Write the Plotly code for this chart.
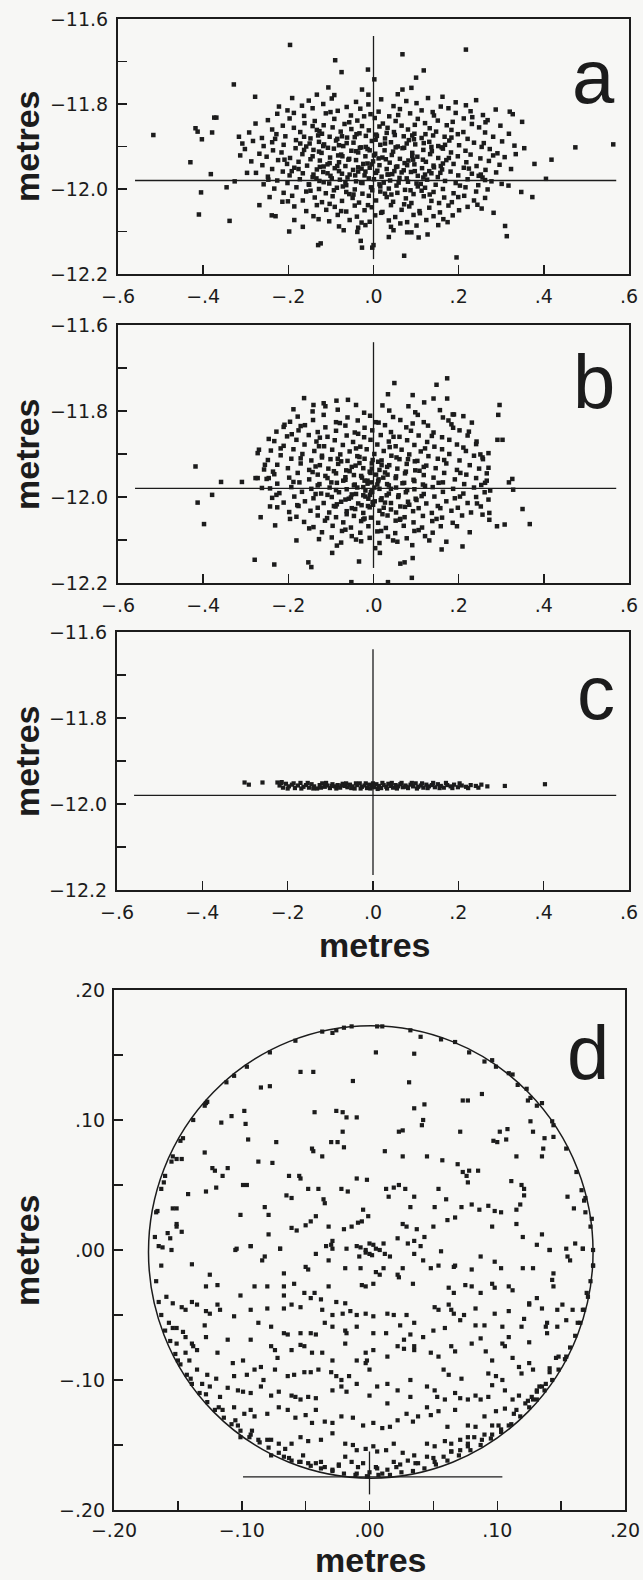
import plotly.graph_objects as go

# ---------------- data (millimetres) ----------------
# panel a: horizontal position (x) and height (y)
a_points_mm = [
    (-196,-11661),(217,-11672),(68,-11683),(-90,-11697),(-75,-11725),(-13,-11719),(2,-11742),(118,-11721),
    (100,-11738),(-328,-11754),(-106,-11761),(-27,-11766),(68,-11766),(89,-11762),(-278,-11783),(-191,-11786),
    (-133,-11778),(-517,-11873),(-418,-11857),(-413,-11865),(-403,-11883),(-374,-11832),(-369,-11832),(-379,-11867),
    (-316,-11877),(-430,-11937),(-382,-11965),(-405,-12008),(-410,-12060),(-338,-12075),(-345,-11996),(-326,-11982),
    (474,-11902),(563,-11895),(418,-11931),(405,-11976),(378,-11941),(373,-12019),(347,-12007),(320,-11818),
    (327,-11824),(349,-11842),(354,-11904),(309,-12087),(313,-12111),(282,-12056),(195,-12161),(72,-12157),
    (-30,-12122),(-27,-12138),(-3,-12138),(0,-12132),(36,-12113),(79,-12102),(89,-12102),(106,-12114),
    (127,-12107),(-130,-12132),(-124,-12128),(-70,-12097),(-36,-12091),(-198,-12100),(-239,-12062),(-230,-12064),
    (-186,-12073),(174,-12078),(252,-11966),(262,-11979),
    (-152,-11792),(-98,-11787),(-41,-11795),(18,-11789),(77,-11793),(128,-11786),(193,-11796),(241,-11791),
    (-168,-11804),(-118,-11800),(-63,-11807),(-12,-11801),(47,-11805),(101,-11798),(158,-11806),(217,-11803),
    (-202,-11815),(-143,-11810),(-84,-11816),(-31,-11811),(12,-11818),(62,-11812),(113,-11815),(176,-11810),(228,-11817),(287,-11813),
    (-226,-11823),(-163,-11828),(-112,-11822),(-53,-11827),(-7,-11824),(37,-11829),(86,-11822),(142,-11827),(193,-11821),(257,-11826),
    (-248,-11838),(-197,-11834),(-138,-11840),(-92,-11835),(-38,-11839),(3,-11833),(52,-11840),(104,-11835),(151,-11839),(212,-11834),(268,-11838),
    (-277,-11846),(-213,-11851),(-162,-11845),(-117,-11850),(-68,-11847),(-27,-11852),(22,-11846),(66,-11851),(121,-11845),(172,-11850),(231,-11847),(298,-11851),
    (-238,-11860),(-187,-11856),(-133,-11861),(-96,-11855),(-52,-11859),(-11,-11862),(33,-11856),(81,-11860),(132,-11857),(183,-11861),(248,-11855),
    (-292,-11867),(-228,-11871),(-172,-11866),(-121,-11870),(-77,-11865),(-33,-11869),(6,-11872),(48,-11866),(96,-11870),(147,-11865),(198,-11871),(262,-11867),(318,-11870),
    (-262,-11880),(-207,-11876),(-148,-11881),(-103,-11877),(-62,-11879),(-18,-11875),(27,-11881),(71,-11876),(113,-11880),(167,-11877),(221,-11882),(281,-11877),
    (-283,-11887),(-238,-11890),(-182,-11885),(-128,-11889),(-88,-11886),(-47,-11891),(-4,-11887),(41,-11890),(83,-11885),(131,-11889),(178,-11886),(236,-11891),(302,-11888),
    (-258,-11899),(-211,-11896),(-158,-11900),(-116,-11895),(-71,-11899),(-29,-11902),(16,-11896),(57,-11900),(98,-11895),(152,-11899),(201,-11897),(254,-11901),(331,-11898),
    (-302,-11906),(-236,-11909),(-183,-11904),(-141,-11908),(-93,-11905),(-52,-11910),(-14,-11906),(26,-11909),(68,-11904),(117,-11908),(163,-11905),(216,-11910),(273,-11906),
    (-268,-11917),(-216,-11914),(-167,-11918),(-122,-11915),(-76,-11919),(-36,-11914),(4,-11917),(43,-11920),(91,-11915),(133,-11918),(182,-11914),(228,-11919),(291,-11916),
    (-251,-11924),(-196,-11927),(-143,-11923),(-102,-11926),(-57,-11929),(-19,-11923),(21,-11926),(62,-11929),(103,-11924),(152,-11927),(198,-11923),(251,-11928),(308,-11925),
    (-287,-11935),(-224,-11932),(-176,-11936),(-126,-11933),(-81,-11937),(-41,-11932),(-1,-11935),(38,-11938),(82,-11933),(123,-11936),(171,-11932),(218,-11937),(271,-11934),
    (-261,-11944),(-203,-11941),(-156,-11945),(-108,-11942),(-66,-11946),(-24,-11941),(14,-11944),(56,-11947),(96,-11942),(141,-11945),(188,-11941),(242,-11946),(296,-11943),
    (-238,-11953),(-186,-11950),(-133,-11954),(-91,-11951),(-48,-11955),(-9,-11950),(31,-11953),(71,-11956),(114,-11951),(161,-11954),(212,-11950),(263,-11955),
    (-276,-11962),(-213,-11959),(-166,-11963),(-118,-11960),(-74,-11964),(-36,-11959),(6,-11962),(44,-11965),(88,-11960),(136,-11963),(181,-11959),(231,-11964),(288,-11961),
    (-248,-11971),(-197,-11968),(-143,-11972),(-101,-11969),(-61,-11973),(-21,-11968),(19,-11971),(61,-11974),(104,-11969),(151,-11972),(199,-11968),(256,-11973),
    (-226,-11980),(-173,-11977),(-127,-11981),(-79,-11978),(-41,-11982),(1,-11977),(39,-11980),(81,-11983),(126,-11978),(168,-11981),(221,-11977),(277,-11982),
    (-258,-11989),(-202,-11986),(-151,-11990),(-104,-11987),(-64,-11991),(-26,-11986),(14,-11989),(54,-11992),(101,-11987),(146,-11990),(193,-11986),(246,-11991),(301,-11988),
    (-233,-11999),(-181,-11996),(-128,-12000),(-86,-11997),(-44,-12001),(-6,-11996),(36,-11999),(74,-12002),(121,-11997),(163,-12000),(216,-11996),(268,-12001),
    (-211,-12009),(-158,-12006),(-112,-12010),(-64,-12007),(-26,-12011),(16,-12006),(56,-12009),(94,-12012),(141,-12007),(188,-12010),(241,-12006),
    (-244,-12019),(-191,-12016),(-138,-12020),(-96,-12017),(-49,-12021),(-11,-12016),(31,-12019),(76,-12022),(118,-12017),(166,-12020),(213,-12016),(262,-12021),
    (-214,-12030),(-166,-12027),(-121,-12031),(-74,-12028),(-34,-12032),(6,-12027),(46,-12030),(89,-12033),(136,-12028),(184,-12031),(236,-12027),
    (-186,-12041),(-133,-12038),(-91,-12042),(-44,-12039),(-4,-12043),(41,-12038),(84,-12041),(131,-12044),(176,-12039),(221,-12042),
    (-158,-12052),(-111,-12049),(-64,-12053),(-21,-12050),(21,-12054),(66,-12049),(108,-12052),(156,-12055),(201,-12050),
    (-141,-12064),(-84,-12061),(-39,-12065),(4,-12062),(51,-12066),(94,-12061),(141,-12064),(186,-12062),
    (-104,-12076),(-56,-12073),(-9,-12077),(36,-12074),(79,-12078),(124,-12073),
    (-81,-12088),(-19,-12085),(41,-12089),(101,-12086),
    (-130,-11874),(-85,-11882),(-40,-11871),(5,-11884),(50,-11873),(95,-11883),(140,-11874),
    (-150,-11893),(-107,-11903),(-63,-11892),(-18,-11901),(27,-11893),(72,-11903),(118,-11892),(160,-11902),
    (-128,-11912),(-83,-11921),(-41,-11911),(1,-11921),(46,-11912),(91,-11922),(137,-11911),
    (-148,-11930),(-103,-11939),(-59,-11931),(-14,-11940),(29,-11930),(73,-11939),(116,-11931),(163,-11940),
    (-126,-11948),(-81,-11958),(-36,-11949),(9,-11957),(53,-11948),(97,-11958),(142,-11949),
    (-141,-11966),(-98,-11975),(-56,-11966),(-11,-11975),(33,-11966),(78,-11975),(121,-11966),
    (-117,-11984),(-72,-11994),(-29,-11985),(16,-11994),(59,-11985),(104,-11994),
    (-93,-12003),(-47,-12013),(-3,-12003),(42,-12013),(87,-12003),(132,-12013),
    (-187,-11821),(-143,-11852),(-101,-11819),(-57,-11843),(-22,-11829),(14,-11853),(58,-11826),(97,-11849),(139,-11819),(186,-11842),(232,-11831),
    (-231,-11882),(-172,-11893),(-127,-11864),(-81,-11897),(-44,-11878),(-9,-11909),(31,-11868),(78,-11893),(122,-11871),(168,-11896),(211,-11866),(259,-11892),
    (-209,-11931),(-163,-11908),(-117,-11947),(-73,-11923),(-28,-11952),(12,-11928),(49,-11958),(93,-11931),(131,-11958),(177,-11927),(224,-11952),(281,-11921),
    (-247,-11978),(-192,-11958),(-152,-11989),(-108,-11963),(-66,-11984),(-19,-11959),(24,-11985),(66,-11961),(111,-11988),(157,-11962),(203,-11992),(247,-11969),
    (-201,-12029),(-148,-12004),(-103,-12035),(-57,-12012),(-13,-12038),(27,-12011),(72,-12036),(113,-12004),(154,-12033),(199,-12019),(244,-12037),
    (-129,-12071),(-76,-12052),(-28,-12079),(18,-12056),(63,-12081),(109,-12057),(164,-12071),
    (-313,-11921),(-297,-11962),(-308,-11893),(323,-11953),(317,-11992),(334,-11918),(-268,-12038),(254,-12046),(-222,-11806),(263,-11843),
    (-166,-12089),(-38,-12101),(47,-12097),(152,-12085),(-92,-11779),(-12,-11778),(57,-11777),(162,-11783),
    (-176,-11953),(-134,-11975),(-85,-11946),(-43,-11968),(-4,-11942),(35,-11966),(79,-11944),(117,-11973),(158,-11946),
    (-163,-11877),(-118,-11899),(-74,-11876),(-32,-11903),(8,-11875),(52,-11902),(91,-11874),(136,-11901),(183,-11879),
]

# panel b
b_points_mm = [
    (-418,-11929),(-413,-12013),(-398,-12063),(-379,-11995),(-358,-11965),(-309,-11965),(-279,-12146),(-233,-12157),
    (-265,-12047),(-243,-12022),(-277,-11956),(-272,-11956),(-246,-11956),(-272,-11898),(-269,-11890),(-255,-11925),
    (-246,-11865),(-209,-11832),(-188,-11796),(-163,-11770),(-141,-11786),(-117,-11782),(-87,-11776),(-60,-11774),
    (-153,-12152),(-146,-12163),(-97,-12130),(-34,-12150),(-52,-12198),(34,-12198),(15,-12130),(63,-12155),
    (73,-12152),(92,-12142),(90,-12188),(160,-12122),(209,-12115),(290,-12068),(308,-12064),(350,-12028),
    (367,-12063),(328,-11983),(318,-11966),(326,-11958),(296,-11786),(293,-11809),(291,-11867),(303,-11867),
    (272,-12037),(272,-12053),(49,-11735),(148,-11739),(173,-11724),(34,-11761),(92,-11763),(141,-11771),
    (173,-11771),(119,-11780),(186,-11808),(189,-11808),(270,-11898),(256,-11908),(270,-11932),(266,-11962),
    (274,-11985),(270,-12006),
    (-143,-11801),(-84,-11797),(-22,-11804),(37,-11799),(98,-11803),(156,-11798),
    (-178,-11813),(-117,-11809),(-61,-11815),(-8,-11811),(46,-11814),(104,-11809),(163,-11815),
    (-196,-11825),(-142,-11821),(-88,-11826),(-37,-11822),(12,-11827),(63,-11821),(118,-11826),(176,-11822),(231,-11827),
    (-211,-11837),(-161,-11833),(-113,-11838),(-66,-11834),(-21,-11839),(27,-11833),(77,-11838),(128,-11834),(187,-11839),
    (-228,-11848),(-176,-11845),(-131,-11849),(-88,-11846),(-44,-11850),(-3,-11845),(41,-11849),(88,-11846),(141,-11850),(202,-11845),
    (-203,-11859),(-152,-11856),(-108,-11860),(-63,-11857),(-22,-11861),(17,-11856),(61,-11860),(106,-11857),(161,-11861),(221,-11857),
    (-233,-11870),(-181,-11867),(-134,-11871),(-91,-11868),(-48,-11872),(-7,-11867),(36,-11871),(79,-11868),(126,-11872),(178,-11867),(242,-11871),
    (-211,-11881),(-162,-11878),(-116,-11882),(-72,-11879),(-31,-11883),(9,-11878),(52,-11882),(96,-11879),(143,-11883),(196,-11878),
    (-241,-11892),(-188,-11889),(-139,-11893),(-97,-11890),(-56,-11894),(-16,-11889),(24,-11893),(66,-11890),(111,-11894),(161,-11889),(217,-11893),
    (-218,-11903),(-167,-11900),(-121,-11904),(-78,-11901),(-38,-11905),(2,-11900),(42,-11904),(84,-11901),(129,-11905),(178,-11900),(236,-11904),
    (-248,-11914),(-193,-11911),(-146,-11915),(-101,-11912),(-61,-11916),(-21,-11911),(19,-11915),(61,-11912),(103,-11916),(151,-11911),(202,-11915),(257,-11912),
    (-226,-11925),(-171,-11922),(-126,-11926),(-83,-11923),(-42,-11927),(-4,-11922),(37,-11926),(78,-11923),(124,-11927),(171,-11922),(226,-11926),
    (-257,-11936),(-201,-11933),(-151,-11937),(-106,-11934),(-64,-11938),(-24,-11933),(14,-11937),(56,-11934),(98,-11938),(146,-11933),(196,-11937),(248,-11934),
    (-233,-11947),(-178,-11944),(-131,-11948),(-88,-11945),(-46,-11949),(-7,-11944),(33,-11948),(74,-11945),(118,-11949),(166,-11944),(218,-11948),(266,-11945),
    (-251,-11958),(-198,-11955),(-151,-11959),(-108,-11956),(-66,-11960),(-27,-11955),(12,-11959),(52,-11956),(94,-11960),(141,-11955),(191,-11959),(241,-11956),
    (-226,-11969),(-174,-11966),(-127,-11970),(-86,-11967),(-44,-11971),(-6,-11966),(32,-11970),(72,-11967),(116,-11971),(163,-11966),(213,-11970),(262,-11967),
    (-243,-11980),(-193,-11977),(-146,-11981),(-103,-11978),(-63,-11982),(-24,-11977),(14,-11981),(53,-11978),(96,-11982),(139,-11977),(187,-11981),(236,-11978),
    (-221,-11991),(-168,-11988),(-123,-11992),(-81,-11989),(-41,-11993),(-3,-11988),(36,-11992),(76,-11989),(118,-11993),(163,-11988),(211,-11992),(261,-11989),
    (-238,-12002),(-186,-11999),(-141,-12003),(-98,-12000),(-58,-12004),(-19,-11999),(19,-12003),(58,-12000),(99,-12004),(143,-11999),(191,-12003),(241,-12000),
    (-211,-12013),(-161,-12010),(-117,-12014),(-76,-12011),(-36,-12015),(3,-12010),(41,-12014),(81,-12011),(124,-12015),(171,-12010),(221,-12014),
    (-226,-12024),(-176,-12021),(-131,-12025),(-89,-12022),(-51,-12026),(-13,-12021),(24,-12025),(63,-12022),(106,-12026),(151,-12021),(198,-12025),(252,-12022),
    (-198,-12035),(-148,-12032),(-104,-12036),(-63,-12033),(-24,-12037),(14,-12032),(53,-12036),(93,-12033),(137,-12037),(183,-12032),(229,-12036),
    (-181,-12046),(-131,-12043),(-88,-12047),(-46,-12044),(-6,-12048),(33,-12043),(73,-12047),(116,-12044),(161,-12048),(208,-12043),
    (-163,-12058),(-114,-12055),(-71,-12059),(-29,-12056),(11,-12060),(52,-12055),(94,-12059),(138,-12056),(186,-12060),
    (-141,-12070),(-96,-12067),(-53,-12071),(-12,-12068),(29,-12072),(71,-12067),(114,-12071),(158,-12068),
    (-121,-12082),(-74,-12079),(-31,-12083),(9,-12080),(51,-12084),(96,-12079),(139,-12083),
    (-98,-12094),(-51,-12091),(-9,-12095),(34,-12092),(78,-12096),(121,-12091),
    (-76,-12106),(-29,-12103),(14,-12107),(56,-12104),
    (-121,-11908),(-76,-11917),(-33,-11907),(11,-11918),(54,-11908),(97,-11917),
    (-136,-11929),(-93,-11940),(-51,-11930),(-9,-11941),(32,-11930),(76,-11941),(118,-11930),
    (-113,-11951),(-71,-11962),(-29,-11951),(11,-11963),(53,-11952),(96,-11963),
    (-131,-11973),(-88,-11984),(-46,-11973),(-4,-11985),(36,-11973),(79,-11984),(121,-11974),
    (-108,-11995),(-66,-12006),(-24,-11996),(17,-12007),(59,-11996),(101,-12007),
    (-86,-12017),(-43,-12028),(-1,-12018),(41,-12029),(84,-12018),
    (-63,-12040),(-21,-12050),(21,-12040),(63,-12051),
    (-14,-11962),(2,-11978),(-8,-11995),(6,-11948),(-2,-12012),(-19,-11985),
    (-171,-11835),(-126,-11862),(-79,-11828),(-36,-11853),(5,-11826),(47,-11860),(92,-11829),(137,-11858),(183,-11831),(224,-11848),
    (-218,-11887),(-171,-11910),(-128,-11882),(-84,-11911),(-41,-11887),(-2,-11914),(38,-11884),(81,-11912),(121,-11887),(166,-11914),(211,-11885),(251,-11901),
    (-236,-11941),(-188,-11965),(-143,-11942),(-99,-11966),(-56,-11940),(-14,-11969),(27,-11943),(68,-11968),(108,-11939),(153,-11967),(204,-11944),(253,-11972),
    (-228,-11995),(-179,-12019),(-136,-11993),(-93,-12021),(-51,-11994),(-9,-12024),(31,-11996),(74,-12023),(113,-11998),(157,-12026),(203,-11999),(243,-12015),
    (-196,-12051),(-151,-12073),(-109,-12049),(-66,-12076),(-24,-12052),(18,-12079),(62,-12053),(106,-12077),(148,-12051),(196,-12068),
    (-128,-12098),(-86,-12113),(-41,-12099),(4,-12119),(46,-12101),(91,-12112),(131,-12101),
    (-66,-11954),(-38,-11978),(-21,-11962),(-6,-11989),(9,-11971),(23,-11955),(41,-11981),(-53,-12001),(-28,-12019),(-12,-12004),
    (27,-12013),(-33,-11921),(-4,-11934),(19,-11926),
    (-113,-11789),(-41,-11786),(21,-11787),(82,-11789),(211,-11812),(-192,-11854),(241,-11877),(-262,-11979),(256,-12041),
    (-231,-12066),(226,-12082),(-181,-12101),(171,-12104),
]

# panel c
c_points_mm = [
    (-301,-11950),(-291,-11955),(-259,-11950),(-224,-11950),(-214,-11949),(309,-11958),(403,-11954),
    (-219,-11957),(-211,-11962),(-204,-11953),(-197,-11959),(-190,-11955),(-183,-11963),(-176,-11957),(-170,-11951),
    (-163,-11960),(-157,-11956),(-150,-11962),(-144,-11954),(-138,-11959),(-131,-11964),(-125,-11956),(-119,-11952),
    (-113,-11960),(-107,-11957),(-101,-11963),(-95,-11954),(-89,-11959),(-83,-11956),(-77,-11962),(-71,-11953),
    (-66,-11958),(-60,-11961),(-54,-11955),(-48,-11959),(-43,-11964),(-37,-11956),(-31,-11952),(-26,-11960),
    (-20,-11957),(-14,-11963),(-9,-11955),(-3,-11959),(3,-11961),(8,-11954),(14,-11958),(19,-11963),
    (25,-11956),(31,-11960),(36,-11953),(42,-11958),(47,-11962),(53,-11956),(59,-11959),(64,-11954),
    (70,-11961),(76,-11957),(82,-11963),(88,-11955),(94,-11959),(100,-11952),(106,-11960),(112,-11957),
    (118,-11962),(125,-11955),(131,-11959),(138,-11956),(145,-11961),(152,-11954),(159,-11958),(166,-11962),
    (174,-11956),(182,-11959),(190,-11955),(199,-11961),(208,-11957),(218,-11960),(229,-11956),(241,-11958),
    (254,-11955),(268,-11959),
    (-215,-11951),(-200,-11964),(-186,-11952),(-168,-11964),(-153,-11951),(-140,-11964),(-122,-11962),(-110,-11951),
    (-97,-11958),(-86,-11964),(-74,-11957),(-63,-11952),(-51,-11963),(-40,-11952),(-29,-11964),(-17,-11952),
    (-6,-11964),(0,-11952),(11,-11965),(22,-11951),(33,-11964),(44,-11951),(56,-11964),(67,-11951),
    (79,-11960),(91,-11951),(103,-11964),(115,-11952),(128,-11963),(141,-11951),(156,-11963),(171,-11951),
    (186,-11963),(203,-11952),(223,-11963),(247,-11962),
]

# panel d (plan view)
d_points_mm = [
    (-29,167),(-26,169),(-20,171),(6,172),(40,164),(67,160),(5,152),(35,151),(90,145),(96,146),(109,136),(112,135),
    (123,124),(124,115),(126,117),(135,113),(143,99),(-106,134),(-128,113),(-129,111),(-146,86),(-154,72),(-151,70),
    (-160,57),(-163,47),(-167,29),(-54,137),(-44,137),(-85,125),(-78,126),(-13,130),(31,129),(73,115),(77,115),
    (88,120),(35,109),(43,112),(42,100),(41,96),(126,99),(-108,103),(-98,107),(-116,98),(-97,97),(-43,106),
    (-26,107),(-21,106),(-18,102),(-10,102),(-21,91),(23,91),(26,92),(71,91),(128,91),(137,86),(144,87),
    (-95,85),(-73,83),(97,84),(100,83),(108,93),(102,91),(107,85),(-30,83),(-25,83),(-20,79),(-45,78),(-44,76),
    (-37,72),(12,76),(26,72),(45,72),(57,69),(69,66),(115,72),(135,72),(136,78),(-87,68),(-76,67),(-129,75),
    (-123,63),(-121,61),(-115,57),(-111,63),(-147,70),(-99,50),(-96,50),(-63,57),(-55,57),(-54,55),(-48,47),
    (-40,47),(-36,39),(-35,36),(-22,47),(-17,45),(-10,55),(-2,54),(13,47),(19,48),(23,50),(35,41),(54,47),
    (77,52),(76,57),(73,60),(78,61),(85,61),(111,53),(119,50),(121,47),(155,41),(166,46),(168,38),(-142,43),
    (-128,45),(-120,48),(-101,27),(-82,33),(-79,27),(-65,42),(-61,40),(-5,31),(-6,22),(-1,26),(15,41),(28,47),
    (32,33),(51,33),(60,39),(72,33),(80,35),(86,31),(93,34),(98,30),(103,29),(115,31),(118,35),(121,42),
    (160,32),(169,29),(174,24),(-154,32),(-151,32),(-151,20),(-151,18),(-147,14),(-158,13),(-156,9),(-165,3),
    (-162,2),(-79,12),(-61,17),(-57,15),(-50,19),(-46,22),(-42,26),(-32,18),(-29,7),(-20,16),(-14,18),(-9,21),
    (26,20),(29,18),(37,16),(43,10),(50,18),(61,23),(67,25),(96,18),(115,20),(120,10),(135,12),(131,4),
    (141,0),(154,1),(161,5),(167,1),(-104,1),(-93,3),(-70,1),(-34,3),(-30,4),(-18,1),(-10,3),(-7,2),(0,5),
    (3,4),(5,1),(11,5),(22,9),(30,5),(35,7),(40,3),(56,-1),(-3,-2),(2,-4),(8,0),(-8,-5),(12,-3),
    (-155,0),(-163,-12),(-139,-11),(-125,-19),(-105,0),(-93,3),(-82,-5),(-84,-8),(-70,1),(-67,-18),(-50,-13),
    (-48,-15),(-42,-3),(-32,-8),(-29,1),(-19,-14),(-7,-14),(-3,0),(0,-3),(5,-17),(8,-19),(11,-14),(16,-5),
    (22,-19),(23,-21),(26,-14),(35,-3),(42,-8),(48,-14),(54,-12),(66,-13),(67,-12),(80,-15),(87,-5),(98,-9),
    (103,-14),(120,-14),(128,-14),(141,0),(144,-18),(155,-5),(157,-8),(167,1),(175,-12),
    (-128,-28),(-119,-27),(-101,-35),(-90,-28),(-80,-28),(-67,-28),(-67,-35),(-59,-26),(-51,-33),(-43,-33),
    (-32,-28),(-26,-40),(-19,-41),(-6,-27),(-3,-28),(3,-26),(34,-26),(62,-29),(66,-33),(75,-27),(80,-28),
    (87,-33),(96,-26),(98,-29),(109,-28),(112,-31),(125,-41),(131,-37),(143,-23),(144,-28),(170,-33),
    (-159,-36),(-154,-41),(-147,-44),(-144,-46),(-139,-40),(-135,-42),(-128,-47),(-125,-49),(-119,-42),(-117,-46),
    (-106,-51),(-93,-46),(-80,-45),(-67,-45),(-61,-42),(-54,-44),(-46,-37),(-38,-38),(-37,-46),(-29,-50),
    (-21,-49),(-15,-47),(-10,-50),(-3,-49),(3,-51),(14,-49),(19,-50),(29,-50),(35,-56),(51,-44),(54,-46),
    (62,-42),(64,-46),(66,-49),(74,-50),(83,-45),(98,-49),(109,-47),(121,-53),(125,-42),(135,-45),(139,-56),
    (147,-46),(151,-42),(159,-46),(167,-46),
    (-157,-56),(-154,-60),(-151,-60),(-146,-63),(-144,-67),(-139,-72),(-138,-74),(-129,-58),(-128,-67),(-111,-69),
    (-93,-69),(-87,-56),(-77,-59),(-67,-64),(-64,-65),(-54,-64),(-46,-64),(-42,-65),(-35,-56),(-29,-59),
    (-19,-62),(-18,-64),(-10,-59),(3,-64),(13,-64),(24,-58),(27,-69),(32,-65),(35,-74),(42,-67),(50,-62),
    (59,-60),(71,-54),(83,-58),(87,-68),(90,-58),(104,-59),(109,-67),(119,-59),(125,-71),(138,-59),(139,-64),
    (147,-59),(154,-54),(163,-56),
    (-151,-72),(-144,-79),(-135,-77),(-119,-79),(-107,-87),(-99,-85),(-90,-92),(-85,-90),(-77,-74),(-74,-77),
    (-72,-83),(-61,-77),(-54,-73),(-51,-74),(-45,-79),(-37,-79),(-29,-85),(-19,-72),(-10,-85),(-3,-79),(-2,-85),
    (3,-77),(14,-82),(22,-74),(27,-76),(35,-77),(48,-79),(54,-82),(64,-74),(67,-78),(80,-72),(91,-78),(96,-85),
    (104,-72),(106,-74),(112,-83),(117,-90),(125,-87),(128,-92),(141,-91),(146,-83),(154,-82),
    (-141,-85),(-135,-92),(-127,-96),(-120,-99),(-106,-97),(-96,-96),(-83,-100),(-74,-92),(-64,-97),(-59,-96),
    (-51,-94),(-46,-94),(-40,-92),(-30,-94),(-26,-97),(-22,-100),(-16,-97),(-3,-87),(0,-92),(14,-103),(32,-100),
    (58,-92),(62,-96),(72,-99),(93,-95),(99,-97),(104,-100),(119,-95),(138,-103),(131,-109),
    (-131,-103),(-125,-105),(-117,-113),(-111,-106),(-103,-108),(-99,-109),(-93,-110),(-85,-105),(-77,-112),
    (-71,-109),(-61,-112),(-58,-113),(-54,-115),(-48,-113),(-42,-114),(-29,-108),(-22,-105),(-18,-109),(-10,-103),
    (0,-112),(6,-105),(14,-118),(22,-108),(32,-113),(45,-105),(51,-108),(53,-113),(59,-115),(67,-110),(71,-114),
    (77,-115),(83,-112),(87,-115),(93,-113),(96,-104),(106,-108),(112,-115),(117,-112),(127,-113),(131,-108),(135,-105),
    (-115,-123),(-106,-121),(-103,-135),(-98,-126),(-93,-123),(-90,-128),(-80,-126),(-71,-121),(-64,-123),(-58,-129),
    (-50,-127),(-45,-133),(-42,-123),(-35,-132),(-29,-133),(-22,-128),(-13,-129),(-5,-135),(3,-133),(10,-137),
    (16,-136),(22,-131),(29,-126),(34,-132),(38,-128),(45,-121),(48,-127),(54,-124),(61,-136),(67,-123),(77,-135),
    (83,-136),(90,-128),(96,-135),(99,-124),(106,-122),(115,-123),(122,-118),(128,-115),
    (-101,-144),(-93,-142),(-87,-146),(-77,-146),(-71,-149),(-61,-149),(-54,-144),(-48,-147),(-38,-146),(-29,-141),
    (-19,-149),(-13,-150),(-10,-154),(-3,-153),(3,-151),(6,-155),(13,-154),(19,-149),(26,-156),(35,-158),(45,-149),
    (51,-151),(59,-147),(64,-149),(71,-146),(77,-144),(82,-144),(88,-146),(96,-142),(103,-138),(109,-135),
    (-77,-158),(-67,-159),(-61,-162),(-54,-163),(-48,-164),(-42,-164),(-35,-167),(-29,-169),(-24,-165),(-19,-159),
    (-14,-163),(-10,-172),(-5,-164),(0,-171),(5,-167),(10,-172),(14,-169),(19,-163),(24,-165),(30,-162),(38,-164),
    (45,-159),(51,-163),(58,-159),(64,-155),(71,-154),(77,-151),
    (-167,-24),(-165,-40),(-163,-50),(-160,-62),(-156,-70),(-152,-80),(-148,-88),(-143,-96),(-139,-103),(-133,-110),
    (-127,-117),(-121,-123),(-114,-129),(-108,-134),(-101,-139),(-94,-144),(-86,-148),(-79,-152),(-71,-156),(-63,-160),
    (-55,-163),(-46,-166),(-38,-168),(-29,-170),(-20,-172),(-11,-173),(-2,-174),(7,-173),(16,-173),(25,-171),(34,-170),
    (43,-168),(52,-165),(61,-162),(70,-158),(79,-154),(87,-150),(95,-145),(103,-140),(111,-134),(118,-128),(125,-121),
    (131,-115),(137,-108),(143,-100),(148,-92),(153,-84),(157,-75),(161,-66),(165,-56),(168,-46),(171,-36),(173,-24),(175,-12),
    (-150,-85),(-140,-99),(-128,-111),(-118,-121),(-105,-131),(-92,-139),(-80,-146),(-66,-153),(-52,-158),(-38,-163),
    (-24,-166),(-9,-167),(6,-168),(21,-167),(36,-164),(50,-160),(64,-155),(77,-149),(90,-142),(101,-135),(113,-126),
    (124,-116),(133,-105),(141,-94),(148,-82),
    (-168,10),(-166,30),(-161,52),(-155,68),(-148,84),(-138,100),(-127,114),(-112,129),(-96,141),(-78,152),(-58,161),
    (-37,168),(-14,172),(10,172),(32,169),(56,162),(78,152),(99,141),(116,127),(131,111),(144,96),(154,78),(162,60),
    (169,40),(173,18),(175,0),
]

# reference cross (panels a-c) and base line (panel d), metres
cross_y = -11.98
cross_x = [-0.56, 0.57]
vline_y = [-11.64, -12.165]
d_base_y = -0.1745
d_base_x = [-0.099, 0.104]
d_stem_y = [-0.155, -0.188]
d_circle = dict(cx=0.001, cy=-0.0015, r=0.174)

panel_letters = ["a", "b", "c", "d"]
abc_xticks = [-0.6, -0.4, -0.2, 0.0, 0.2, 0.4, 0.6]
abc_xtext = ["\u2212.6", "\u2212.4", "\u2212.2", ".0", ".2", ".4", ".6"]
abc_yticks = [-12.2, -12.1, -12.0, -11.9, -11.8, -11.7, -11.6]
abc_ytext = ["\u221212.2", "", "\u221212.0", "", "\u221211.8", "", "\u221211.6"]
d_ticks = [-0.2, -0.15, -0.1, -0.05, 0.0, 0.05, 0.1, 0.15, 0.2]
d_text = ["\u2212.20", "", "\u2212.10", "", ".00", "", ".10", "", ".20"]

# ---------------- figure ----------------
W, H = 643, 1580
INK = "#1c1c1c"
BG = "#f7f7f5"

def px_x(p):
    return p / W

def px_y(p):
    return 1 - p / H

# frames in pixels: (left, right, top, bottom)
frames = [
    (118, 629, 19, 274),
    (118, 629, 325, 583),
    (117, 629, 632, 890),
    (114, 625, 990, 1510),
]

fig = go.Figure()

def to_xy(points):
    return [p[0] / 1000 for p in points], [p[1] / 1000 for p in points]

series = [a_points_mm, b_points_mm, c_points_mm, d_points_mm]
marker_sizes = [4.5, 4.5, 4.2, 4.2]
for i, pts in enumerate(series):
    xs, ys = to_xy(pts)
    ax = "x" if i == 0 else f"x{i+1}"
    ay = "y" if i == 0 else f"y{i+1}"
    fig.add_trace(go.Scatter(
        x=xs, y=ys, mode="markers", xaxis=ax, yaxis=ay,
        marker=dict(symbol="square", size=marker_sizes[i], color=INK, line=dict(width=0)),
        hoverinfo="skip", showlegend=False))
    if i < 3:
        fig.add_trace(go.Scatter(x=cross_x, y=[cross_y, cross_y], mode="lines", xaxis=ax, yaxis=ay,
                                 line=dict(color=INK, width=1.3), showlegend=False, hoverinfo="skip"))
        fig.add_trace(go.Scatter(x=[0, 0], y=vline_y, mode="lines", xaxis=ax, yaxis=ay,
                                 line=dict(color=INK, width=1.3), showlegend=False, hoverinfo="skip"))
    else:
        fig.add_trace(go.Scatter(x=d_base_x, y=[d_base_y, d_base_y], mode="lines", xaxis=ax, yaxis=ay,
                                 line=dict(color=INK, width=1.3), showlegend=False, hoverinfo="skip"))
        fig.add_trace(go.Scatter(x=[0, 0], y=d_stem_y, mode="lines", xaxis=ax, yaxis=ay,
                                 line=dict(color=INK, width=1.3), showlegend=False, hoverinfo="skip"))

tickfont = dict(family="DejaVu Sans", size=19, color=INK)
layout = dict(width=W, height=H, margin=dict(l=0, r=0, t=0, b=0, pad=0, autoexpand=False), autosize=False,
              paper_bgcolor=BG, plot_bgcolor=BG, showlegend=False)

for i, (l, r, t, b) in enumerate(frames):
    xk = "xaxis" if i == 0 else f"xaxis{i+1}"
    yk = "yaxis" if i == 0 else f"yaxis{i+1}"
    xa = "x" if i == 0 else f"x{i+1}"
    ya = "y" if i == 0 else f"y{i+1}"
    common = dict(showgrid=False, zeroline=False, showline=True, linewidth=2, linecolor=INK, mirror=True,
                  ticks="inside", ticklen=9, tickwidth=1.5, tickcolor=INK, tickfont=tickfont,
                  fixedrange=True, automargin=False)
    if i < 3:
        layout[xk] = dict(common, domain=[px_x(l), px_x(r)], anchor=ya, range=[-0.6, 0.6],
                          tickmode="array", tickvals=abc_xticks, ticktext=abc_xtext, ticklabelstandoff=4)
        layout[yk] = dict(common, domain=[px_y(b), px_y(t)], anchor=xa, range=[-12.2, -11.6],
                          tickmode="array", tickvals=abc_yticks, ticktext=abc_ytext, ticklabelstandoff=4)
    else:
        layout[xk] = dict(common, domain=[px_x(l), px_x(r)], anchor=ya, range=[-0.2, 0.2],
                          tickmode="array", tickvals=d_ticks, ticktext=d_text, ticklabelstandoff=2)
        layout[yk] = dict(common, domain=[px_y(b), px_y(t)], anchor=xa, range=[-0.2, 0.2],
                          tickmode="array", tickvals=d_ticks, ticktext=d_text, ticklabelstandoff=3)

fig.update_layout(**layout)

# circle in panel d
c = d_circle
fig.add_shape(type="circle", xref="x4", yref="y4",
              x0=c["cx"] - c["r"], x1=c["cx"] + c["r"], y0=c["cy"] - c["r"], y1=c["cy"] + c["r"],
              line=dict(color=INK, width=1.5), layer="below")

# panel letters
letter_font = dict(family="Liberation Sans, Arial, sans-serif", size=76, color=INK)
letter_pos = [(617, 76), (617, 382), (617, 692), (611, 1052)]
for letter, (lx, ly) in zip(panel_letters, letter_pos):
    fig.add_annotation(text=letter, x=px_x(lx), y=px_y(ly), xref="paper", yref="paper",
                       xanchor="right", yanchor="middle", showarrow=False, font=letter_font)

# axis titles
title_font = dict(family="Liberation Sans, Arial, sans-serif", size=34, color=INK, weight="bold")
for cy in [146, 454, 761, 1250]:
    fig.add_annotation(text="metres", x=px_x(27), y=px_y(cy), xref="paper", yref="paper",
                       xanchor="center", yanchor="middle", textangle=-90, showarrow=False, font=title_font)
fig.add_annotation(text="metres", x=px_x(375), y=px_y(945), xref="paper", yref="paper",
                   xanchor="center", yanchor="middle", showarrow=False, font=title_font)
fig.add_annotation(text="metres", x=px_x(371), y=0.0, xref="paper", yref="paper",
                   xanchor="center", yanchor="bottom", showarrow=False, font=title_font, borderpad=0)

fig.write_html("out.html", config={"displayModeBar": False, "staticPlot": True},
               post_script="document.body.style.margin='0px';")
